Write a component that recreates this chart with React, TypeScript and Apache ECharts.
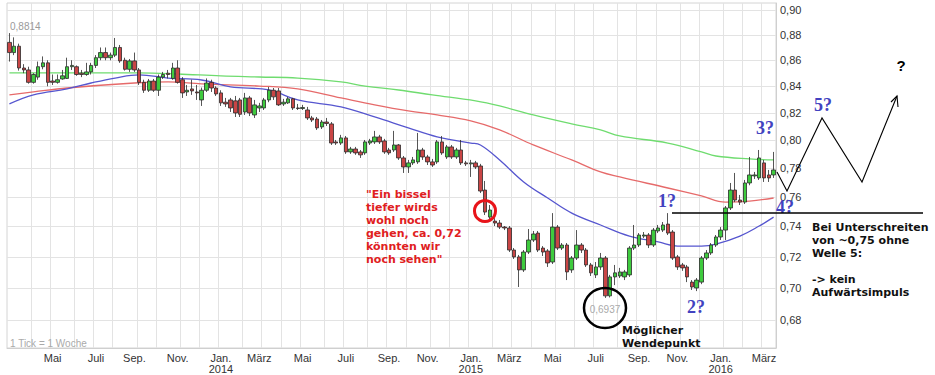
import React, { useEffect, useRef } from "react";
import * as echarts from "echarts";

// First weekly candle (Monday) and number of weeks
const START_DATE = Date.UTC(2013, 1, 25);
const WEEK_COUNT = 160;
const DAY_MS = 86400000;

const MONTH_NAMES = ["Jan.", "Feb.", "März", "Apr.", "Mai", "Juni", "Juli", "Aug.", "Sep.", "Okt.", "Nov.", "Dez."];
const LABELLED_MONTHS = [0, 2, 4, 6, 8, 10];
const Y_TICKS = [0.68, 0.7, 0.72, 0.74, 0.76, 0.78, 0.8, 0.82, 0.84, 0.86, 0.88, 0.9];

// weekly candles: [open, close, low, high]
const weeklyOHLC: number[][] = [
  [0.874, 0.866, 0.859, 0.8814], [0.866, 0.871, 0.864, 0.878], [0.871, 0.854, 0.852, 0.873], [0.854, 0.8525, 0.85, 0.857],
  [0.8525, 0.843, 0.842, 0.855], [0.843, 0.849, 0.842, 0.85], [0.847, 0.855, 0.845, 0.859], [0.855, 0.858, 0.853, 0.863],
  [0.858, 0.843, 0.84, 0.86], [0.844, 0.843, 0.841, 0.849], [0.843, 0.845, 0.842, 0.849], [0.8456, 0.848, 0.845, 0.8525],
  [0.846, 0.855, 0.8456, 0.862], [0.855, 0.856, 0.8525, 0.86], [0.855, 0.849, 0.848, 0.856], [0.85, 0.849, 0.847, 0.8525],
  [0.849, 0.851, 0.848, 0.858], [0.851, 0.856, 0.849, 0.858], [0.856, 0.862, 0.854, 0.864], [0.862, 0.866, 0.86, 0.87],
  [0.866, 0.862, 0.86, 0.87], [0.862, 0.864, 0.86, 0.866], [0.864, 0.87, 0.8625, 0.8775], [0.87, 0.8595, 0.858, 0.872],
  [0.86, 0.853, 0.852, 0.862], [0.853, 0.8595, 0.851, 0.861], [0.8595, 0.8525, 0.851, 0.866], [0.8525, 0.843, 0.841, 0.854],
  [0.843, 0.837, 0.835, 0.845], [0.837, 0.844, 0.8357, 0.8456], [0.844, 0.837, 0.8357, 0.8456], [0.837, 0.847, 0.8327, 0.849],
  [0.847, 0.849, 0.8456, 0.851], [0.85, 0.849, 0.846, 0.8525], [0.846, 0.854, 0.845, 0.858], [0.854, 0.843, 0.842, 0.86],
  [0.845, 0.835, 0.8312, 0.847], [0.8357, 0.837, 0.8327, 0.841], [0.838, 0.8365, 0.8335, 0.845], [0.8357, 0.835, 0.8297, 0.841],
  [0.8297, 0.837, 0.8252, 0.839], [0.837, 0.8425, 0.8357, 0.846], [0.843, 0.8387, 0.8357, 0.845], [0.8387, 0.8342, 0.8327, 0.84],
  [0.835, 0.8275, 0.8252, 0.837], [0.828, 0.8267, 0.8245, 0.8312], [0.8297, 0.8237, 0.8207, 0.8312], [0.829, 0.82, 0.817, 0.8327],
  [0.8297, 0.819, 0.817, 0.8312], [0.8207, 0.8312, 0.8185, 0.835], [0.8312, 0.82, 0.8177, 0.8327], [0.8185, 0.826, 0.8163, 0.8297],
  [0.8237, 0.8252, 0.8207, 0.8275], [0.8237, 0.8297, 0.8222, 0.8312], [0.8297, 0.837, 0.828, 0.8395], [0.837, 0.832, 0.8297, 0.8387],
  [0.8365, 0.826, 0.8252, 0.8387], [0.8267, 0.828, 0.8252, 0.8305], [0.8275, 0.8305, 0.8267, 0.832], [0.8305, 0.8237, 0.8222, 0.8312],
  [0.8237, 0.8233, 0.8222, 0.8267], [0.8233, 0.824, 0.8222, 0.826], [0.8222, 0.8163, 0.8148, 0.8245], [0.8163, 0.8148, 0.8133, 0.8178],
  [0.8155, 0.809, 0.8075, 0.817], [0.8097, 0.8133, 0.8082, 0.8148], [0.8133, 0.8122, 0.8104, 0.8163], [0.8119, 0.798, 0.7966, 0.8133],
  [0.7988, 0.798, 0.7966, 0.8002], [0.798, 0.8017, 0.7966, 0.8039], [0.8017, 0.7916, 0.7902, 0.8031], [0.7916, 0.7937, 0.7902, 0.7952],
  [0.7937, 0.7909, 0.7895, 0.7952], [0.7916, 0.7895, 0.7873, 0.793], [0.7909, 0.7988, 0.7895, 0.8002], [0.798, 0.7995, 0.7966, 0.801],
  [0.7988, 0.8024, 0.7973, 0.8068], [0.8024, 0.7988, 0.7973, 0.8039], [0.7995, 0.7916, 0.7902, 0.801], [0.793, 0.7909, 0.7895, 0.7945],
  [0.793, 0.7966, 0.7916, 0.8068], [0.7966, 0.7873, 0.7859, 0.7973], [0.7873, 0.7809, 0.7767, 0.7887], [0.7809, 0.7838, 0.7767, 0.7859],
  [0.7838, 0.7859, 0.7823, 0.788], [0.7845, 0.793, 0.7831, 0.8053], [0.793, 0.788, 0.7859, 0.7945], [0.788, 0.7845, 0.7823, 0.7895],
  [0.7845, 0.7823, 0.7809, 0.7866], [0.7845, 0.7988, 0.7831, 0.8002], [0.7988, 0.7909, 0.7895, 0.8031], [0.788, 0.7952, 0.7866, 0.7966],
  [0.7952, 0.788, 0.7866, 0.7966], [0.788, 0.793, 0.7866, 0.7945], [0.793, 0.7838, 0.7823, 0.8002], [0.7838, 0.7831, 0.7816, 0.7852],
  [0.7831, 0.7838, 0.7739, 0.7859], [0.7838, 0.7809, 0.7795, 0.7852], [0.7816, 0.7641, 0.7627, 0.7831], [0.7648, 0.7497, 0.7477, 0.7711],
  [0.7463, 0.7511, 0.745, 0.7545], [0.7436, 0.7423, 0.7403, 0.7456], [0.7423, 0.7396, 0.7383, 0.7443], [0.7396, 0.739, 0.7376, 0.7403],
  [0.739, 0.7244, 0.7231, 0.7403], [0.7244, 0.7199, 0.7186, 0.7257], [0.7199, 0.7115, 0.7006, 0.7212], [0.7115, 0.7231, 0.7102, 0.7244],
  [0.7231, 0.731, 0.7218, 0.7383], [0.731, 0.735, 0.7297, 0.737], [0.7356, 0.7244, 0.7231, 0.737], [0.7257, 0.7231, 0.7205, 0.727],
  [0.7238, 0.716, 0.7134, 0.725], [0.7166, 0.7396, 0.7153, 0.749], [0.7396, 0.7257, 0.7244, 0.741], [0.7257, 0.7277, 0.7244, 0.729],
  [0.7277, 0.7102, 0.705, 0.729], [0.7115, 0.7192, 0.7096, 0.7205], [0.7192, 0.7277, 0.7179, 0.7376], [0.7277, 0.7244, 0.7225, 0.729],
  [0.7244, 0.7147, 0.7134, 0.7257], [0.7147, 0.7096, 0.7076, 0.716], [0.7083, 0.7134, 0.7063, 0.7166], [0.7134, 0.7192, 0.7115, 0.7225],
  [0.7192, 0.695, 0.6937, 0.7205], [0.695, 0.707, 0.694, 0.7083], [0.707, 0.7096, 0.7018, 0.7147], [0.7076, 0.7102, 0.7063, 0.7128],
  [0.707, 0.7102, 0.705, 0.7115], [0.7083, 0.7257, 0.707, 0.727], [0.7257, 0.7277, 0.7244, 0.741], [0.7277, 0.7343, 0.7264, 0.7356],
  [0.7336, 0.7343, 0.7323, 0.7363], [0.7343, 0.7277, 0.7257, 0.7356], [0.7277, 0.7376, 0.7264, 0.739], [0.737, 0.739, 0.7356, 0.741],
  [0.7376, 0.741, 0.7363, 0.743], [0.7416, 0.7356, 0.7343, 0.749], [0.7363, 0.7192, 0.7179, 0.7376], [0.7199, 0.7134, 0.7115, 0.7212],
  [0.7147, 0.7128, 0.7109, 0.716], [0.7134, 0.707, 0.7037, 0.7147], [0.7037, 0.7006, 0.6987, 0.705], [0.7, 0.705, 0.698, 0.7063],
  [0.7037, 0.7192, 0.7024, 0.7205], [0.7192, 0.7225, 0.7179, 0.7244], [0.7225, 0.7277, 0.7212, 0.729], [0.7277, 0.733, 0.7264, 0.7343],
  [0.733, 0.7376, 0.731, 0.7396], [0.7376, 0.7525, 0.731, 0.7538], [0.7525, 0.7648, 0.7511, 0.7697], [0.7648, 0.7579, 0.7565, 0.7767],
  [0.7579, 0.7565, 0.7545, 0.7614], [0.7565, 0.7697, 0.7552, 0.7718], [0.7697, 0.7753, 0.7681, 0.788], [0.7746, 0.7753, 0.7725, 0.7774],
  [0.7732, 0.7873, 0.7718, 0.793], [0.7838, 0.7732, 0.7704, 0.7859], [0.7753, 0.7732, 0.7704, 0.7788], [0.7753, 0.7788, 0.7732, 0.7916],
];

// moving averages read at sparse weeks: [weekIndex, value]
const maSlow: number[][] = [
  [0, 0.8502], [8, 0.8502], [19, 0.8502], [27, 0.8502], [35, 0.8494], [44, 0.8479], [52, 0.8471], [60, 0.8463],
  [69, 0.8433], [74, 0.8402], [81, 0.8372], [88, 0.8335], [97, 0.829], [102, 0.8252], [109, 0.8185], [117, 0.8119],
  [123, 0.8075], [127, 0.8031], [137, 0.798], [144, 0.7916], [147, 0.7887], [154, 0.7866], [159, 0.7859],
];
const maMid: number[][] = [
  [0, 0.8335], [5, 0.8357], [12, 0.8387], [26, 0.8425], [33, 0.8433], [40, 0.8418], [52, 0.8402], [60, 0.838],
  [69, 0.8312], [76, 0.826], [83, 0.8215], [89, 0.8185], [96, 0.8141], [102, 0.8075], [109, 0.7966], [117, 0.7859],
  [123, 0.7774], [127, 0.7739], [137, 0.7662], [144, 0.7607], [149, 0.7565], [154, 0.7572], [159, 0.7593],
];
const maFast: number[][] = [
  [0, 0.8267], [5, 0.8335], [12, 0.838], [17, 0.8425], [22, 0.8463], [27, 0.8487], [33, 0.8463], [40, 0.8448],
  [46, 0.8395], [54, 0.8372], [60, 0.8297], [69, 0.8245], [76, 0.817], [83, 0.809], [89, 0.8024], [96, 0.798],
  [98, 0.7966], [102, 0.7859], [107, 0.7704], [112, 0.7593], [117, 0.749], [123, 0.741], [129, 0.7336], [135, 0.7297],
  [139, 0.727], [144, 0.727], [147, 0.7283], [152, 0.7336], [156, 0.7403], [159, 0.7463],
];

const weekDates: number[] = Array.from({ length: WEEK_COUNT }, (_, i) => START_DATE + i * 7 * DAY_MS);
const categories = weekDates.map((t) => new Date(t).toISOString().slice(0, 10));

function buildMonthMaps() {
  const split = new Set<number>();
  const labels = new Map<number, string>();
  for (let y = 2013; y <= 2016; y++) {
    for (let m = 0; m < 12; m++) {
      const t = Date.UTC(y, m, 1);
      const w = (t - START_DATE) / (7 * DAY_MS);
      const b = Math.round(w);
      if (b >= 2 && b < WEEK_COUNT) split.add(b);
      const c = Math.round(w - 0.5);
      if (LABELLED_MONTHS.includes(m) && c >= 2 && c < WEEK_COUNT) {
        labels.set(c, m === 0 ? MONTH_NAMES[m] + "\n" + y : MONTH_NAMES[m]);
      }
    }
  }
  return { split, labels };
}

export default function App() {
  const ref = useRef<HTMLDivElement>(null);
  useEffect(() => {
    if (!ref.current) return;
    const chart = echarts.init(ref.current, null, { renderer: "svg" });
    const { split, labels } = buildMonthMaps();
    const boldSans = '"DejaVu Sans", Verdana, sans-serif';
    const blue = "#4242c0";
    const option: any = {
      animation: false,
      backgroundColor: "#ffffff",
      textStyle: { fontFamily: '"Liberation Sans", Arial, sans-serif' },
      grid: {
        left: 7, right: 159, top: 3, bottom: 27,
        show: true, borderColor: "#d4d4d4", borderWidth: 1,
        outerBoundsMode: "none", containLabel: false,
      },
      xAxis: {
        type: "category",
        data: categories,
        boundaryGap: true,
        axisLine: { show: true, lineStyle: { color: "#cfcfcf" } },
        axisTick: { show: false },
        axisLabel: {
          interval: (i: number) => labels.has(i),
          formatter: (_v: string, i: number) => labels.get(i) ?? "",
          color: "#333", fontSize: 11, lineHeight: 11, margin: 4,
          hideOverlap: false,
        },
        splitLine: { show: true, interval: (i: number) => split.has(i), lineStyle: { color: "#e3e3e3", width: 1 } },
      },
      yAxis: {
        type: "log",
        logBase: 10,
        min: 0.663,
        max: 0.9057,
        position: "right",
        axisLine: { show: true, lineStyle: { color: "#cfcfcf" } },
        axisTick: { show: false, customValues: Y_TICKS },
        axisLabel: {
          customValues: Y_TICKS,
          formatter: (v: number) => v.toFixed(2).replace(".", ","),
          color: "#333", fontSize: 11, margin: 4,
        },
        splitLine: { show: true, lineStyle: { color: "#e3e3e3", width: 1 } },
      },
      series: [
        { type: "line", data: maSlow, smooth: 0.4, symbol: "none", z: 2, lineStyle: { color: "#6fdc6f", width: 1.3 } },
        { type: "line", data: maMid, smooth: 0.4, symbol: "none", z: 2, lineStyle: { color: "#e66a6a", width: 1.3 } },
        { type: "line", data: maFast, smooth: 0.4, symbol: "none", z: 2, lineStyle: { color: "#5656cf", width: 1.3 } },
        {
          type: "candlestick",
          data: weeklyOHLC,
          barWidth: 4,
          z: 5,
          itemStyle: { color: "#3ecb3e", color0: "#c94545", borderColor: "#2b2b2b", borderColor0: "#2b2b2b", borderWidth: 0.8 },
        },
      ],
      graphic: [
        { type: "text", z: 100, x: 10, y: 21, style: { text: "0,8814", font: '10px "Liberation Sans", Arial', fill: "#9a9a9a" } },
        { type: "text", z: 100, x: 10, y: 338, style: { text: "1 Tick = 1 Woche", font: '10px "Liberation Sans", Arial', fill: "#aaaaaa" } },
        {
          type: "text", z: 100, x: 366, y: 187.5,
          style: {
            text: '"Ein bissel\ntiefer wirds\nwohl noch\ngehen, ca. 0,72\nkönnten wir\nnoch sehen"',
            font: "bold 11px " + boldSans, fill: "#e0201e", lineHeight: 13,
          },
        },
        { type: "circle", z: 100, shape: { cx: 485, cy: 211, r: 10.5 }, style: { fill: "none", stroke: "#e8141a", lineWidth: 3 } },
        { type: "ellipse", z: 100, shape: { cx: 605, cy: 308, rx: 21, ry: 20 }, style: { fill: "none", stroke: "#000", lineWidth: 2.5 } },
        { type: "text", z: 100, x: 605, y: 309, style: { text: "0,6937", font: '10px "Liberation Sans", Arial', fill: "#aaaaaa", align: "center", verticalAlign: "middle" } },
        { type: "text", z: 100, x: 622, y: 323.5, style: { text: "Möglicher\nWendepunkt", font: "bold 11px " + boldSans, fill: "#111", lineHeight: 13 } },
        { type: "text", z: 100, x: 667, y: 201, style: { text: "1?", font: 'bold 18px "Liberation Serif", serif', fill: blue, align: "center", verticalAlign: "middle" } },
        { type: "text", z: 100, x: 696, y: 307, style: { text: "2?", font: 'bold 18px "Liberation Serif", serif', fill: blue, align: "center", verticalAlign: "middle" } },
        { type: "text", z: 100, x: 765, y: 128, style: { text: "3?", font: 'bold 18px "Liberation Serif", serif', fill: blue, align: "center", verticalAlign: "middle" } },
        { type: "text", z: 100, x: 785, y: 207, style: { text: "4?", font: 'bold 18px "Liberation Serif", serif', fill: blue, align: "center", verticalAlign: "middle" } },
        { type: "text", z: 100, x: 823, y: 105, style: { text: "5?", font: 'bold 18px "Liberation Serif", serif', fill: blue, align: "center", verticalAlign: "middle" } },
        { type: "text", z: 100, x: 901, y: 65, style: { text: "?", font: 'bold 15px "Liberation Sans", Arial', fill: "#000", align: "center", verticalAlign: "middle" } },
        { type: "line", z: 100, shape: { x1: 672, y1: 213, x2: 923, y2: 213 }, style: { stroke: "#000", lineWidth: 1.5 } },
        { type: "polyline", z: 100, shape: { points: [[777, 172], [787, 191], [822, 118], [862, 182], [897, 96]] }, style: { stroke: "#000", lineWidth: 1.1, fill: "none" } },
        { type: "polyline", z: 100, shape: { points: [[891, 102], [897, 96], [898, 107]] }, style: { stroke: "#000", lineWidth: 1.1, fill: "none" } },
        {
          type: "text", z: 100, x: 812, y: 220.5,
          style: {
            text: "Bei Unterschreiten\nvon ~0,75 ohne\nWelle 5:\n\n-> kein\nAufwärtsimpuls",
            font: "bold 11px " + boldSans, fill: "#111", lineHeight: 13.1,
          },
        },
      ],
    };
    chart.setOption(option);
    return () => chart.dispose();
  }, []);
  return <div ref={ref} style={{ position: "absolute", left: 0, top: 0, width: 935, height: 375 }} />;
}
